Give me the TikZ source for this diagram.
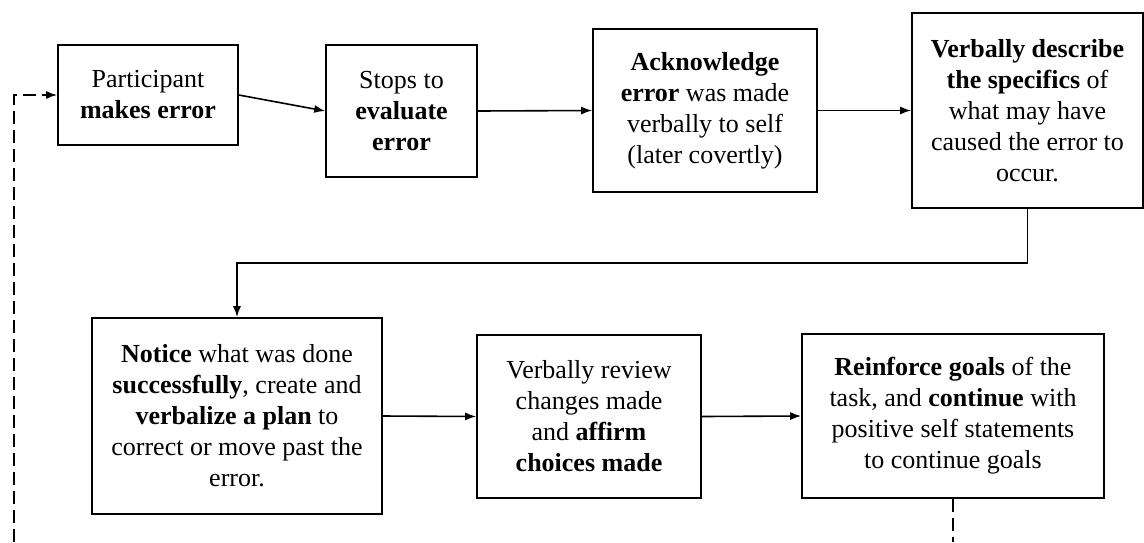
\documentclass[tikz,border=0pt]{standalone}
\usepackage{fontspec}
\setmainfont{Liberation Serif}
\usetikzlibrary{arrows.meta}
\tikzset{
  stepbox/.style={draw=black, line width=1.6pt, inner sep=0pt, align=center,
    font=\fontsize{26}{31}\selectfont, fill=white},
  flow/.style={line width=1.6pt, -{Latex[length=11pt,width=8pt]}},
  loopline/.style={line width=1.6pt, dash pattern=on 13pt off 6pt},
}
\begin{document}
\begin{tikzpicture}[x=1pt,y=-1pt]
\useasboundingbox (0,0) rectangle (1144,542);
\node[stepbox, minimum width=180pt, minimum height=100pt] (b1) at (148,95)
  {Participant\\ \textbf{makes error}};
\node[stepbox, minimum width=151pt, minimum height=132pt] (b2) at (401.5,111)
  {Stops to\\ \textbf{evaluate}\\ \textbf{error}};
\node[stepbox, minimum width=224pt, minimum height=163pt] (b3) at (705,110.5)
  {\textbf{Acknowledge}\\ \textbf{error} was made\\ verbally to self\\ (later covertly)};
\node[stepbox, minimum width=231pt, minimum height=195pt] (b4) at (1027.5,110.5)
  {\textbf{Verbally describe}\\ \textbf{the specifics} of\\ what may have\\ caused the error to\\ occur.};
\node[stepbox, minimum width=290pt, minimum height=196pt] (b5) at (237,416)
  {\textbf{Notice} what was done\\ \textbf{successfully}, create and\\ \textbf{verbalize a plan} to\\ correct or move past the\\ error.};
\node[stepbox, minimum width=224pt, minimum height=163pt] (b6) at (589,416.5)
  {Verbally review\\ changes made\\ and \textbf{affirm}\\ \textbf{choices made}};
\node[stepbox, minimum width=302pt, minimum height=164pt] (b7) at (953,416)
  {\textbf{Reinforce goals} of the\\ task, and \textbf{continue} with\\ positive self statements\\ to continue goals};

\coordinate (turn) at (237,263);
\coordinate (endR) at (953,542);
\coordinate (endL) at (14,542);

\draw[flow] (b1.east) -- (b2.west);
\draw[flow] (b2.east) -- (b3.west);
\draw[flow] (b3.east) -- (b4.west);
\draw[flow] (b4.south) |- (turn) -- (b5.north);
\draw[flow] (b5.east) -- (b6.west);
\draw[flow] (b6.east) -- (b7.west);
\draw[loopline] (b7.south) -- (endR);
\draw[loopline, -{Latex[length=11pt,width=8pt]}] (endL) |- (b1.west);
\end{tikzpicture}
\end{document}
